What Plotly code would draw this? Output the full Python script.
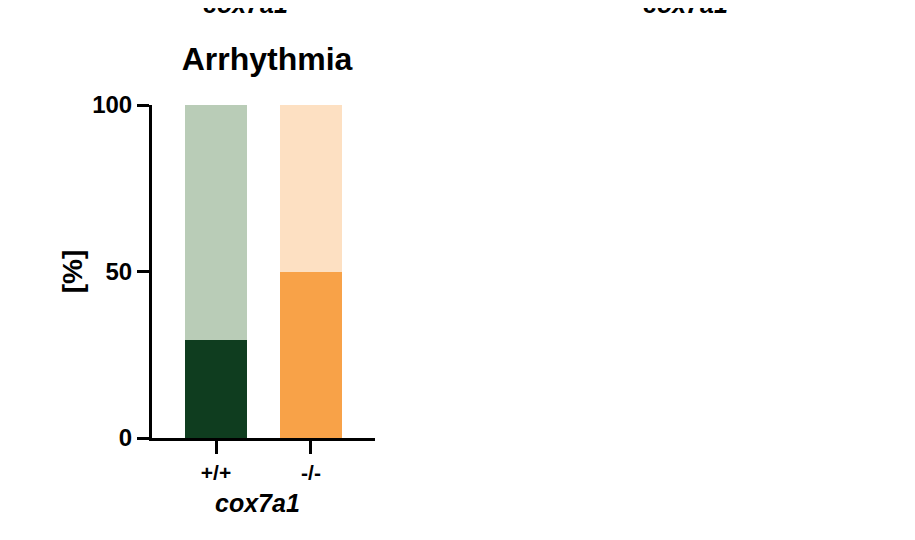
import plotly.graph_objects as go

# genotype groups and % of larvae with / without arrhythmia
genotypes = ['+/+', '-/-']
arrhythmia_pct = [29.4, 50]
normal_pct = [70.6, 50]

dark_colors = ['#0f3d1f', '#f8a248']
light_colors = ['#b9ccb7', '#fde0c2']

FONT = 'Liberation Sans, Arial, sans-serif'
OFF = 8  # the page body has an 8px margin

# plot area in screenshot pixels
L, R, T, B = 152, 375, 105, 438

fig = go.Figure()
fig.add_trace(go.Bar(x=genotypes, y=arrhythmia_pct, marker=dict(color=dark_colors, line=dict(width=0)),
                     width=0.66, showlegend=False))
fig.add_trace(go.Bar(x=genotypes, y=normal_pct, marker=dict(color=light_colors, line=dict(width=0)),
                     width=0.66, showlegend=False))

fig.update_layout(
    width=915, height=540,
    barmode='stack',
    plot_bgcolor='white', paper_bgcolor='white',
    margin=dict(l=L - OFF, r=915 - (R - OFF), t=T - OFF, b=540 - (B - OFF)),
    font=dict(family=FONT, color='black'),
    title=dict(text='<b>Arrhythmia</b>', x=(267 - OFF) / 915, xanchor='center',
               y=1 - (59 - OFF) / 540, yanchor='middle', font=dict(size=32)),
)

fig.update_xaxes(
    type='category', range=[-0.674, 1.674],
    showline=True, linecolor='black', linewidth=3,
    ticks='outside', ticklen=13, tickwidth=3, tickcolor='black',
    tickfont=dict(size=21, family=FONT), ticklabelstandoff=1,
    showgrid=False, zeroline=False,
)
fig.update_yaxes(
    range=[0, 100], tickvals=[0, 50, 100],
    showline=True, linecolor='black', linewidth=3,
    ticks='outside', ticklen=12, tickwidth=3, tickcolor='black',
    tickfont=dict(size=24, family=FONT),
    title=dict(text='<b>[%]</b>', font=dict(size=28), standoff=2),
    showgrid=False, zeroline=False,
)

# bold tick labels
fig.update_xaxes(ticktext=['<b>+/+</b>', '<b>-/-</b>'], tickvals=genotypes)
fig.update_yaxes(ticktext=['<b>0</b>', '<b>50</b>', '<b>100</b>'])

# x axis title, slightly left of the plot centre as in the source
fig.add_annotation(text='<b><i>cox7a1</i></b>', xref='paper', yref='paper',
                   x=(257 - L) / (R - L), y=-(503 - B) / (B - T), xanchor='center', yanchor='middle',
                   showarrow=False, font=dict(size=25))

# axis titles of the panels above, cut off by the crop
for xp in [245, 685]:
    fig.add_annotation(text='<b><i>cox7a1</i></b>', xref='paper', yref='paper',
                       x=(xp - L) / (R - L), y=(B - 20) / (B - T), xanchor='center', yanchor='bottom',
                       showarrow=False, font=dict(size=25))

fig.write_html("out.html")
